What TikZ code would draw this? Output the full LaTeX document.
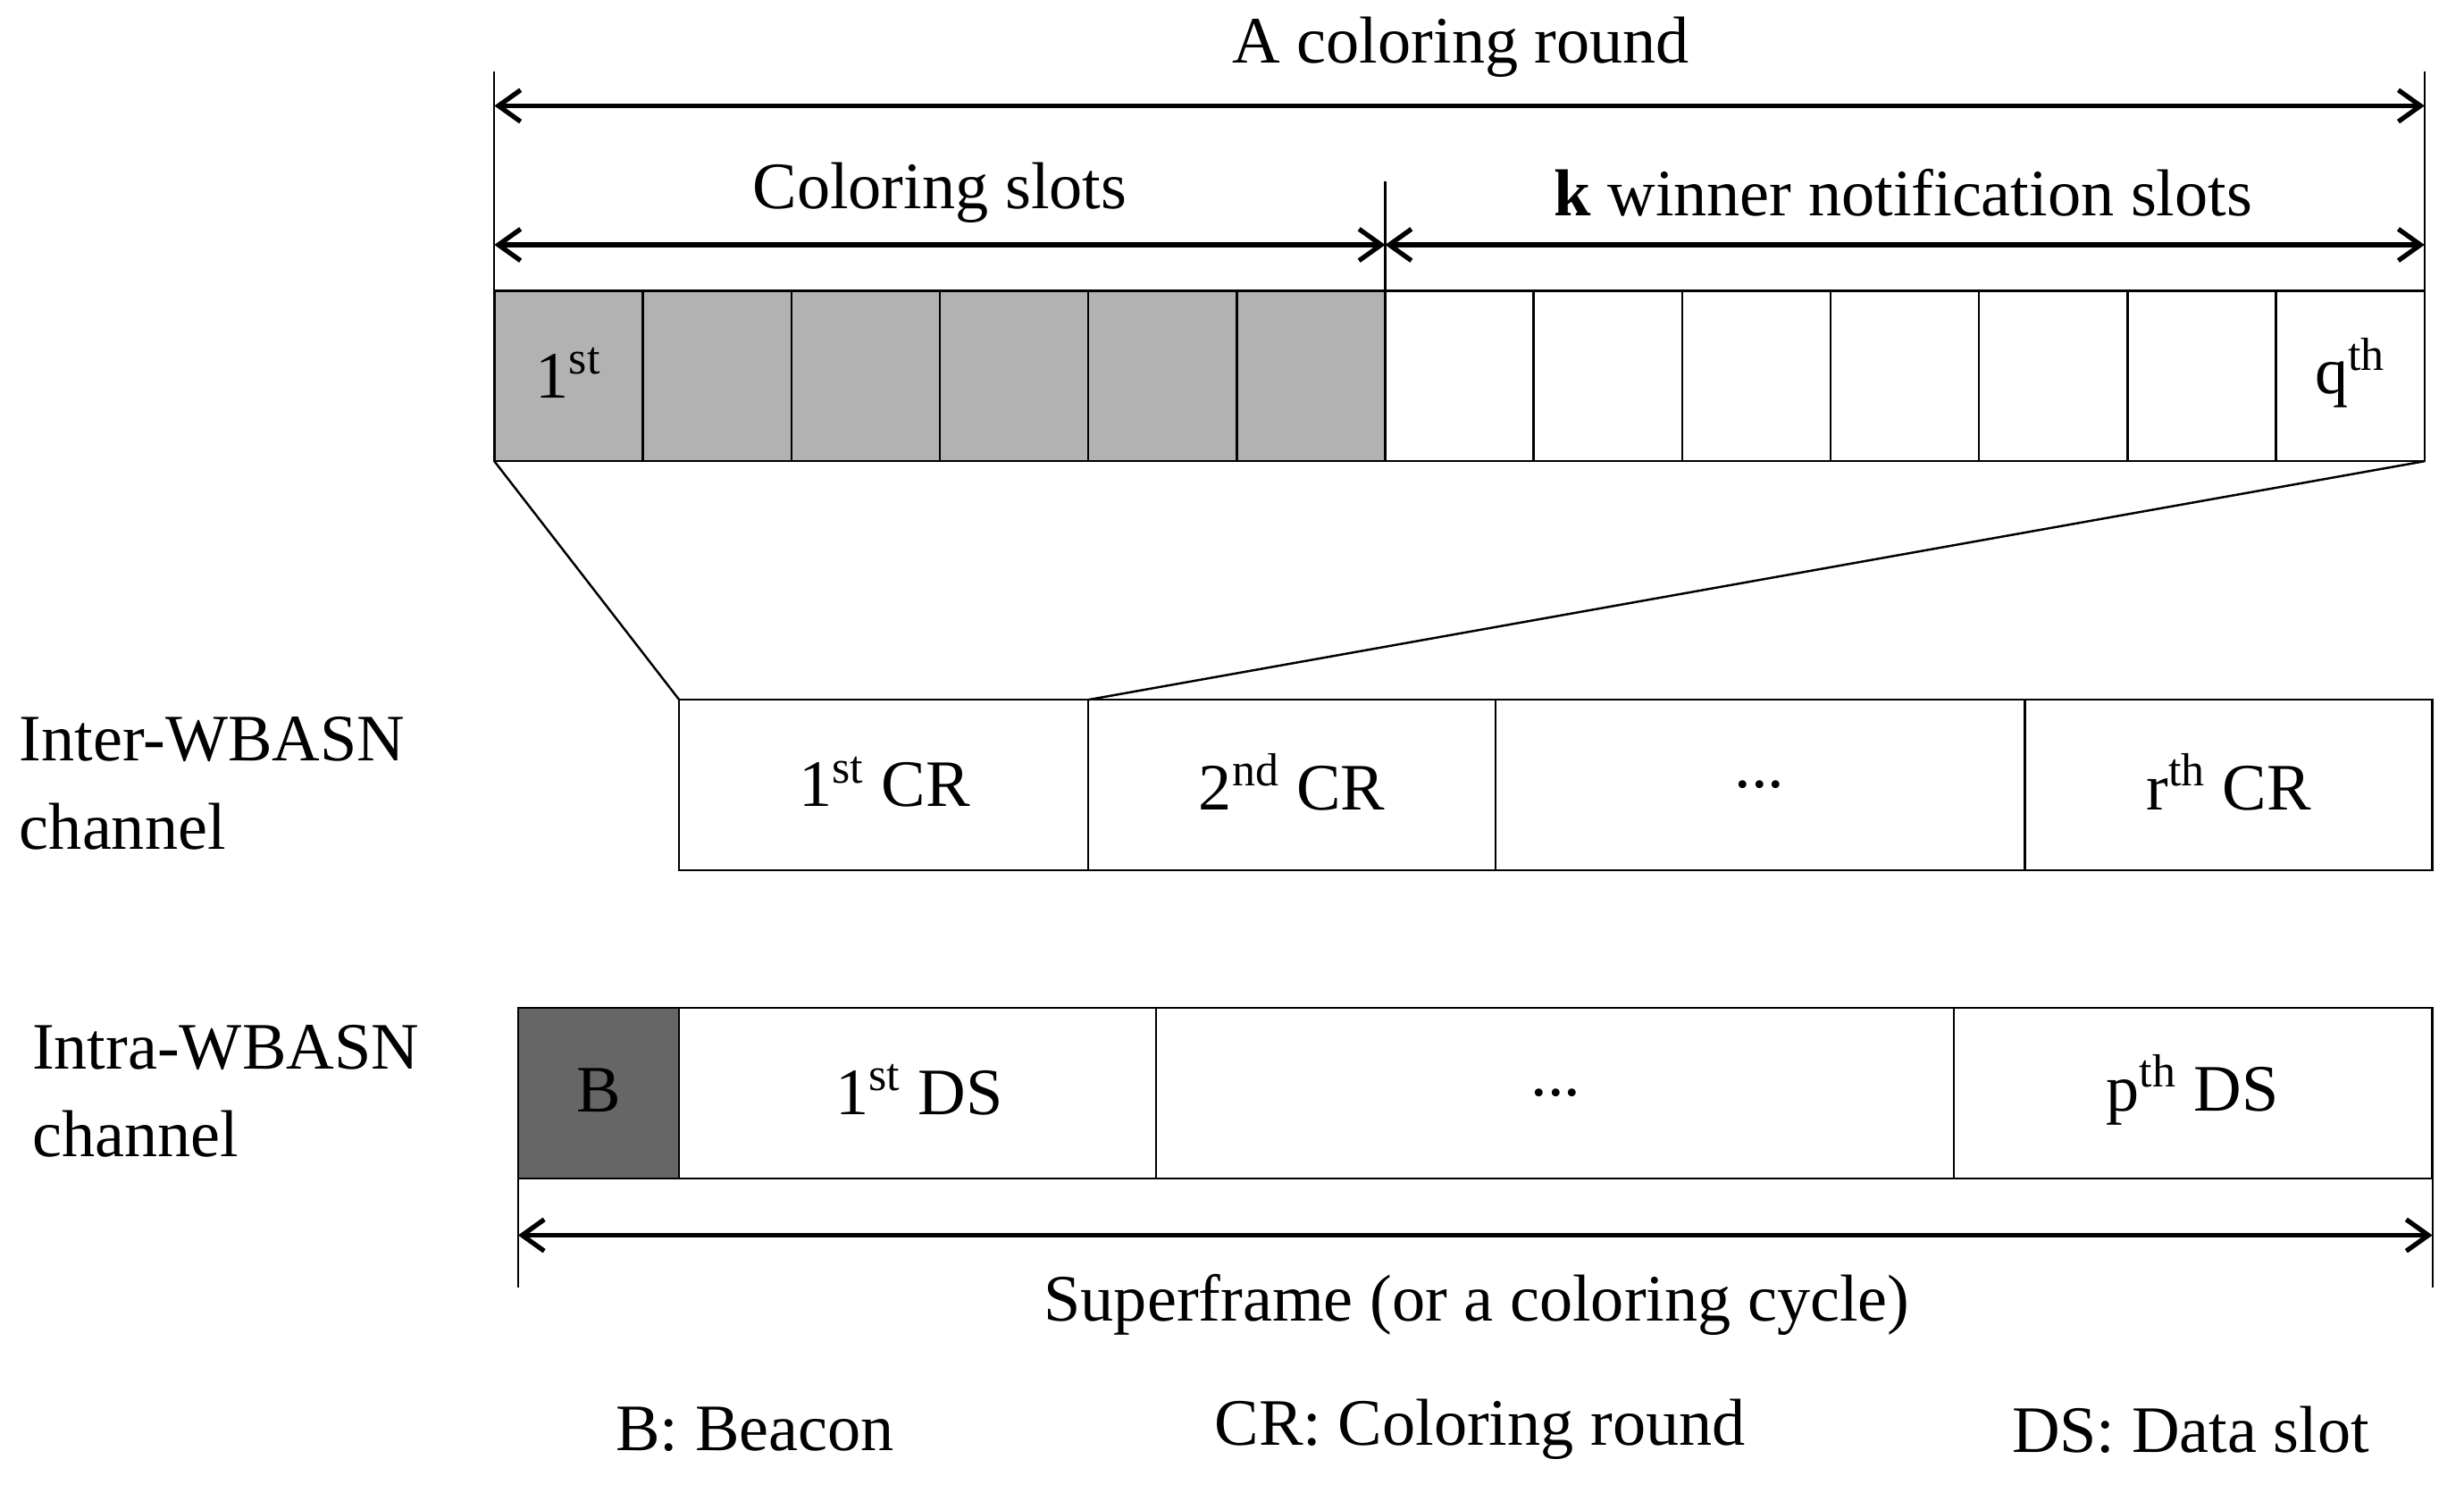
\documentclass[tikz,border=0pt]{standalone}
\usepackage{fontspec}
\setmainfont{Liberation Serif}
\usetikzlibrary{arrows.meta}
\begin{document}
\begin{tikzpicture}[x=0.5pt,y=-0.5pt,
  cell/.style={draw=black,line width=0.7pt},
  dim/.style={line width=1.5pt,{Straight Barb[length=7pt,width=10pt]}-{Straight Barb[length=7pt,width=10pt]}},
  tick/.style={line width=0.6pt},
  lbl/.style={font=\fontsize{21}{25}\selectfont,inner sep=0pt},
  every node/.style={lbl}]
\useasboundingbox (0,0) rectangle (1560,945);
% top row
\foreach \x in {313,407,501,595,689,783}{\draw[cell,fill=black!30] (\x,184) rectangle ++(94,108);}
\foreach \x in {877,971,1065,1159,1253,1347,1441}{\draw[cell] (\x,184) rectangle ++(94,108);}
\node (s1) at (360,236) {1\textsuperscript{st}};
\node (sq) at (1488,236) {q\textsuperscript{th}};
% dimension arrows
\draw[tick] (313,45) -- (313,184);
\draw[tick] (1535,45) -- (1535,184);
\draw[tick] (877,115) -- (877,184);
\coordinate (a1) at (313,67); \coordinate (a2) at (1535,67);
\draw[dim] (a1) -- (a2);
\node (t1) at (925,30) {A coloring round};
\coordinate (b1) at (313,155); \coordinate (b2) at (877,155); \coordinate (b3) at (1535,155);
\draw[dim] (b1) -- (b2);
\draw[dim] (b2) -- (b3);
\node (t2) at (595,122) {Coloring slots};
\node (t3) at (1205,122) {\textbf{k} winner notification slots};
% zoom lines
\draw[cell] (313,292) -- (430,443);
\draw[cell] (1535,292) -- (689,443);
% inter row
\draw[cell] (430,443) rectangle (689,551);
\draw[cell] (689,443) rectangle (947,551);
\draw[cell] (947,443) rectangle (1282,551);
\draw[cell] (1282,443) rectangle (1540,551);
\node (c1) at (560,495) {1\textsuperscript{st} CR};
\node (c2) at (818,495) {2\textsuperscript{nd} CR};
\node (c3) at (1114,497) {...};
\node (c4) at (1411,495) {r\textsuperscript{th} CR};
\node[anchor=west] (l1) at (12,468) {Inter-WBASN};
\node[anchor=west] (l2) at (12,523) {channel};
% intra row
\draw[cell,fill=black!60] (328,638) rectangle (430,746);
\draw[cell] (430,638) rectangle (732,746);
\draw[cell] (732,638) rectangle (1237,746);
\draw[cell] (1237,638) rectangle (1540,746);
\node (d0) at (379,690) {B};
\node (d1) at (582,690) {1\textsuperscript{st} DS};
\node (d2) at (985,692) {...};
\node (d3) at (1388,690) {p\textsuperscript{th} DS};
\node[anchor=west] (l3) at (20,663) {Intra-WBASN};
\node[anchor=west] (l4) at (20,718) {channel};
% superframe
\draw[tick] (328,746) -- (328,815);
\draw[tick] (1540,746) -- (1540,815);
\coordinate (e1) at (328,782); \coordinate (e2) at (1540,782);
\draw[dim] (e1) -- (e2);
\node (t4) at (935,826) {Superframe (or a coloring cycle)};
% legend
\node (g1) at (478,905) {B: Beacon};
\node (g2) at (937,905) {CR: Coloring round};
\node (g3) at (1387,905) {DS: Data slot};
\end{tikzpicture}
\end{document}
